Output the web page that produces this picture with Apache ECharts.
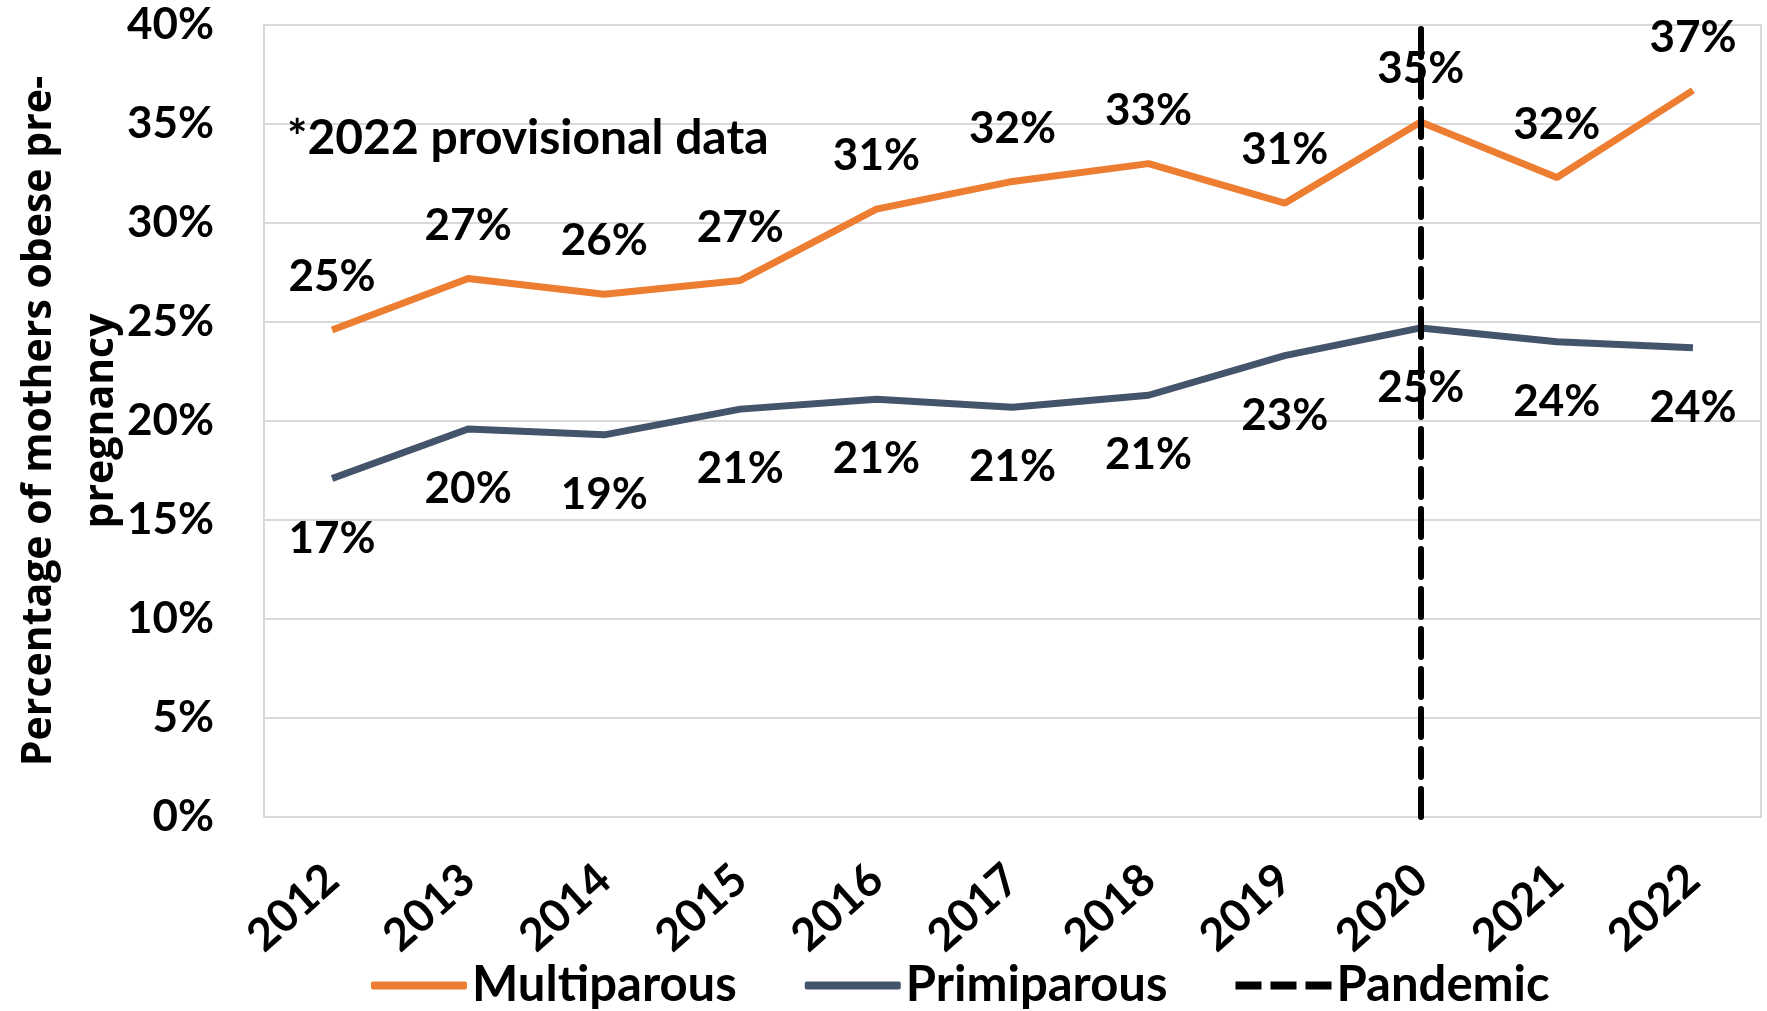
<!DOCTYPE html>
<html>
<head>
<meta charset="utf-8">
<style>
  html, body { margin: 0; padding: 0; background: #fff; }
  #chart { width: 1767px; height: 1011px; }
</style>
<script src="https://cdn.jsdelivr.net/npm/echarts@6/dist/echarts.min.js"></script>
</head>
<body>
<div id="chart"></div>
<script>
// chart data
const years = ['2012', '2013', '2014', '2015', '2016', '2017', '2018', '2019', '2020', '2021', '2022']
const multiparous = [24.6, 27.2, 26.4, 27.1, 30.7, 32.1, 33.0, 31.0, 35.1, 32.3, 36.7]
const primiparous = [17.1, 19.6, 19.3, 20.6, 21.1, 20.7, 21.3, 23.3, 24.7, 24.0, 23.7]
const pandemicYear = '2020'

const labelFont = 'Lato, "Open Sans", sans-serif'
const gridColor = '#D9D9D9'

const chart = echarts.init(document.getElementById('chart'))

const pctLabel = (p) => Math.round(p.value) + '%'

// three dashes for the pandemic legend entry
const dashIcon = 'path://M0,0h26v8h-26z M35,0h26v8h-26z M70,0h26v8h-26z'

chart.setOption({
  animation: false,
  title: {
    text: '*2022 provisional data',
    left: 282,
    top: 110,
    textStyle: { fontFamily: labelFont, fontWeight: 'bold', fontSize: 48, color: '#000' }
  },
  grid: {
    left: 264,
    right: 6,
    top: 25,
    bottom: 194,
    outerBoundsMode: 'none',
    containLabel: false,
    show: true,
    borderColor: gridColor,
    borderWidth: 2
  },
  legend: {
    left: 366,
    top: 956,
    itemWidth: 96,
    itemHeight: 8,
    itemGap: 68,
    textStyle: { fontFamily: labelFont, fontWeight: 'bold', fontSize: 49, color: '#000' },
    data: [
      { name: 'Multiparous', icon: 'roundRect' },
      { name: 'Primiparous', icon: 'roundRect' },
      { name: 'Pandemic', icon: dashIcon }
    ]
  },
  xAxis: {
    type: 'category',
    data: years,
    boundaryGap: true,
    axisLine: { lineStyle: { color: gridColor, width: 2 } },
    axisTick: { inside: true, length: 17, lineStyle: { color: gridColor, width: 2 } },
    axisLabel: {
      rotate: 42,
      margin: 56,
      fontFamily: labelFont,
      fontWeight: 'bold',
      fontSize: 45,
      color: '#000'
    }
  },
  yAxis: {
    type: 'value',
    min: 0,
    max: 40,
    interval: 5,
    name: 'Percentage of mothers obese pre-\npregnancy',
    nameLocation: 'middle',
    nameGap: 132,
    nameMoveOverlap: false,
    nameTextStyle: {
      fontFamily: '"Open Sans", sans-serif',
      fontWeight: 'bold',
      fontSize: 41,
      lineHeight: 62,
      color: '#000'
    },
    axisLine: { show: true, lineStyle: { color: gridColor, width: 2 } },
    axisTick: { show: false },
    splitLine: { lineStyle: { color: gridColor, width: 2 } },
    axisLabel: {
      margin: 50,
      formatter: '{value}%',
      fontFamily: labelFont,
      fontWeight: 'bold',
      fontSize: 44,
      color: '#000'
    }
  },
  series: [
    {
      name: 'Multiparous',
      type: 'line',
      data: multiparous,
      symbol: 'circle',
      symbolSize: 0,
      showSymbol: true,
      lineStyle: { color: '#ED7D31', width: 7 },
      itemStyle: { color: '#ED7D31' },
      label: {
        show: true,
        position: 'top',
        distance: 31,
        formatter: pctLabel,
        fontFamily: labelFont,
        fontWeight: 'bold',
        fontSize: 44,
        lineHeight: 44,
        color: '#000'
      },
      z: 3
    },
    {
      name: 'Primiparous',
      type: 'line',
      data: primiparous,
      symbol: 'circle',
      symbolSize: 0,
      showSymbol: true,
      lineStyle: { color: '#44546A', width: 7 },
      itemStyle: { color: '#44546A' },
      label: {
        show: true,
        position: 'bottom',
        distance: 38,
        formatter: pctLabel,
        fontFamily: labelFont,
        fontWeight: 'bold',
        fontSize: 44,
        lineHeight: 44,
        color: '#000'
      },
      z: 3
    },
    {
      name: 'Pandemic',
      type: 'line',
      data: [],
      symbol: 'none',
      lineStyle: { color: '#000', width: 6, type: [20, 9] },
      itemStyle: { color: '#000' },
      markLine: {
        silent: true,
        symbol: 'none',
        label: { show: false },
        lineStyle: { color: '#000', width: 6, type: [28, 12], cap: 'round' },
        data: [{ xAxis: pandemicYear }]
      },
      z: 4
    }
  ]
})
</script>
</body>
</html>
